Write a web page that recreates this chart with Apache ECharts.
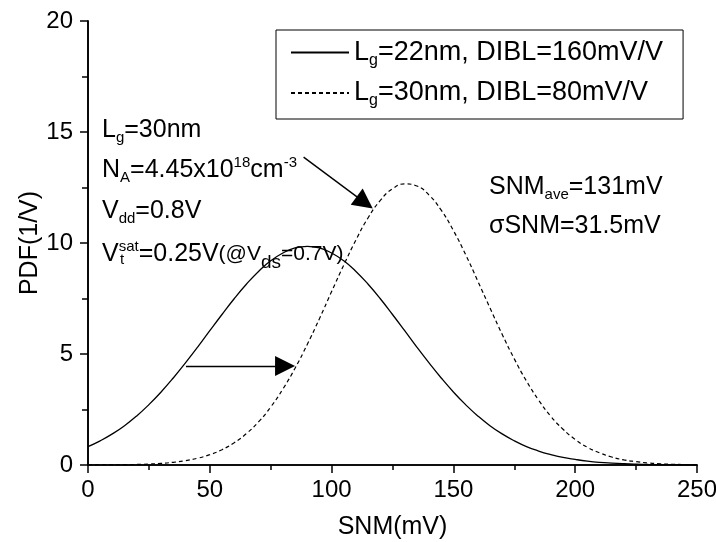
<!DOCTYPE html>
<html>
<head>
<meta charset="utf-8">
<script src="https://cdn.jsdelivr.net/npm/echarts@6/dist/echarts.min.js"></script>
<style>
  html, body { margin: 0; padding: 0; background: #fff; }
  #chart { width: 716px; height: 542px; }
</style>
</head>
<body>
<div id="chart"></div>
<script>
// SNM sample points (mV)
const snm = [0, 5, 10, 15, 20, 25, 30, 35, 40, 45, 50, 55, 60, 65, 70, 75, 80, 85, 90, 95,
  100, 105, 110, 115, 120, 125, 130, 135, 140, 145, 150, 155, 160, 165, 170, 175, 180, 185, 190, 195,
  200, 205, 210, 215, 220, 225, 230, 235, 240, 245, 250];

// PDF (1/V), Lg = 22 nm, DIBL = 160 mV/V
const pdfLg22 = [0.83, 1.09, 1.40, 1.77, 2.21, 2.72, 3.29, 3.92, 4.60, 5.31,
  6.05, 6.78, 7.49, 8.14, 8.72, 9.20, 9.55, 9.78, 9.85, 9.78,
  9.55, 9.20, 8.72, 8.14, 7.49, 6.78, 6.05, 5.31, 4.60, 3.92,
  3.29, 2.72, 2.21, 1.77, 1.40, 1.09, 0.83, 0.63, 0.47, 0.34,
  0.25, 0.175, 0.12, 0.084, 0.057, 0.038, 0.025, 0.016, 0.010, 0.006, 0.004];

// PDF (1/V), Lg = 30 nm, DIBL = 80 mV/V
const pdfLg30 = [0.002, 0.004, 0.008, 0.014, 0.026, 0.044, 0.074, 0.122, 0.195, 0.305,
  0.465, 0.69, 1.00, 1.41, 1.94, 2.61, 3.42, 4.36, 5.43, 6.59,
  7.81, 9.01, 10.14, 11.14, 11.92, 12.44, 12.66, 12.57, 12.16, 11.48,
  10.56, 9.48, 8.29, 7.08, 5.89, 4.78, 3.78, 2.92, 2.19, 1.61,
  1.15, 0.80, 0.55, 0.36, 0.23, 0.15, 0.09, 0.054, 0.032, 0.018, 0.010];

const seriesNames = ['Lg=22nm, DIBL=160mV/V', 'Lg=30nm, DIBL=80mV/V'];
const legendRich = {
  'Lg=22nm, DIBL=160mV/V': '{m|L}{s|g}{m|=22nm, DIBL=160mV/V}',
  'Lg=30nm, DIBL=80mV/V': '{m|L}{s|g}{m|=30nm, DIBL=80mV/V}'
};

// arrow annotations: [start, end] in (mV, 1/V)
const arrowUpper = [[88.5, 13.87], [113.6, 11.82]];
const arrowLower = [[40.2, 4.46], [80.9, 4.46]];

const FONT = "'Liberation Sans', Arial, sans-serif";

function richStyles(size, subSize, lh) {
  const off = lh - subSize;
  return {
    m: { fontSize: size, fontFamily: FONT, color: '#000', lineHeight: lh },
    s: { fontSize: subSize, fontFamily: FONT, color: '#000', padding: [off, 0, 0, 0] },
    p: { fontSize: subSize, fontFamily: FONT, color: '#000', padding: [0, 0, off, 0] },
    q: { fontSize: 21, fontFamily: FONT, color: '#000', lineHeight: lh },
    qs: { fontSize: 19, fontFamily: FONT, color: '#000', padding: [lh - 14, 0, 0, 0] }
  };
}

function pairs(xs, ys) { return xs.map((x, i) => [x, ys[i]]); }

const chart = echarts.init(document.getElementById('chart'), null, { renderer: 'canvas' });

const annoRich = richStyles(25, 15, 30);

chart.setOption({
  animation: false,
  backgroundColor: '#fff',
  grid: { left: 88, right: 19, top: 21, bottom: 77, containLabel: false, outerBoundsMode: 'none' },
  legend: {
    orient: 'vertical',
    left: 276,
    top: 30,
    data: seriesNames,
    itemWidth: 58,
    itemHeight: 14,
    itemGap: 11,
    padding: [9, 20, 10, 14],
    borderColor: '#000',
    borderWidth: 1,
    backgroundColor: '#fff',
    selectedMode: false,
    itemStyle: { color: 'rgba(0,0,0,0)', borderWidth: 0, opacity: 0 },
    formatter: name => legendRich[name],
    textStyle: { rich: richStyles(27, 16, 32) }
  },
  xAxis: [{
    type: 'value', min: 0, max: 250, interval: 50, position: 'bottom',
    name: 'SNM(mV)', nameLocation: 'middle', nameGap: 50, nameMoveOverlap: false,
    nameTextStyle: { fontSize: 25, fontFamily: FONT, color: '#000' },
    axisLine: { lineStyle: { color: '#000', width: 1.6 } },
    axisTick: { inside: false, length: 8, lineStyle: { color: '#000', width: 1.5 } },
    minorTick: { show: true, splitNumber: 2, length: 5, lineStyle: { color: '#000', width: 1.5 } },
    axisLabel: { fontSize: 24, fontFamily: FONT, color: '#000', margin: 13, showMinLabel: true, showMaxLabel: true },
    splitLine: { show: false }
  }, {
    type: 'value', min: 0, max: 250, interval: 25, position: 'top',
    axisLine: { lineStyle: { color: '#000', width: 1.6 } },
    axisTick: { inside: true, length: 5, lineStyle: { color: '#000', width: 1.5 } },
    axisLabel: { show: false },
    splitLine: { show: false }
  }],
  yAxis: [{
    type: 'value', min: 0, max: 20, interval: 5, position: 'left',
    name: 'PDF(1/V)', nameLocation: 'middle', nameGap: 45, nameMoveOverlap: false,
    nameTextStyle: { fontSize: 25, fontFamily: FONT, color: '#000' },
    axisLine: { lineStyle: { color: '#000', width: 1.6 } },
    axisTick: { inside: false, length: 8, lineStyle: { color: '#000', width: 1.5 } },
    minorTick: { show: true, splitNumber: 2, length: 5, lineStyle: { color: '#000', width: 1.5 } },
    axisLabel: { fontSize: 24, fontFamily: FONT, color: '#000', margin: 15 },
    splitLine: { show: false }
  }, {
    type: 'value', min: 0, max: 20, interval: 2.5, position: 'right',
    axisLine: { lineStyle: { color: '#000', width: 1.6 } },
    axisTick: { inside: true, length: 6, lineStyle: { color: '#000', width: 1.5 } },
    axisLabel: { show: false },
    splitLine: { show: false }
  }],
  series: [{
    name: seriesNames[0],
    type: 'line',
    data: pairs(snm, pdfLg22),
    smooth: true,
    showSymbol: false,
    symbol: 'none',
    lineStyle: { color: '#000', width: 1.3, type: 'solid' },
    itemStyle: { color: '#000' },
    markLine: {
      silent: true,
      symbol: ['none', 'triangle'],
      symbolSize: 20,
      label: { show: false },
      lineStyle: { color: '#000', width: 1.4, type: 'solid' },
      data: [
        [{ coord: arrowUpper[0] }, { coord: arrowUpper[1] }],
        [{ coord: arrowLower[0] }, { coord: arrowLower[1] }]
      ]
    }
  }, {
    name: seriesNames[1],
    type: 'line',
    data: pairs(snm, pdfLg30),
    smooth: true,
    showSymbol: false,
    symbol: 'none',
    lineStyle: { color: '#000', width: 1.2, type: [4, 3] },
    itemStyle: { color: '#000' }
  }],
  graphic: [
    { type: 'text', x: 102, y: 115, silent: true,
      style: { text: '{m|L}{s|g}{m|=30nm}', rich: annoRich, verticalAlign: 'top' } },
    { type: 'text', x: 102, y: 155, silent: true,
      style: { text: '{m|N}{s|A}{m|=4.45x10}{p|18}{m|cm}{p|-3}', rich: annoRich, verticalAlign: 'top' } },
    { type: 'text', x: 102, y: 196, silent: true,
      style: { text: '{m|V}{s|dd}{m|=0.8V}', rich: annoRich, verticalAlign: 'top' } },
    { type: 'text', x: 102, y: 237, silent: true,
      style: { text: '{m|V}{p|sat}{m|=0.25V}{q|(@V}{qs|ds}{q|=0.7V)}', rich: annoRich, verticalAlign: 'top' } },
    { type: 'text', x: 120, y: 237, silent: true,
      style: { text: '{s|t}', rich: annoRich, verticalAlign: 'top' } },
    { type: 'text', x: 489, y: 172, silent: true,
      style: { text: '{m|SNM}{s|ave}{m|=131mV}', rich: annoRich, verticalAlign: 'top' } },
    { type: 'text', x: 489, y: 211, silent: true,
      style: { text: '{m|σSNM=31.5mV}', rich: annoRich, verticalAlign: 'top' } }
  ]
});
</script>
</body>
</html>
